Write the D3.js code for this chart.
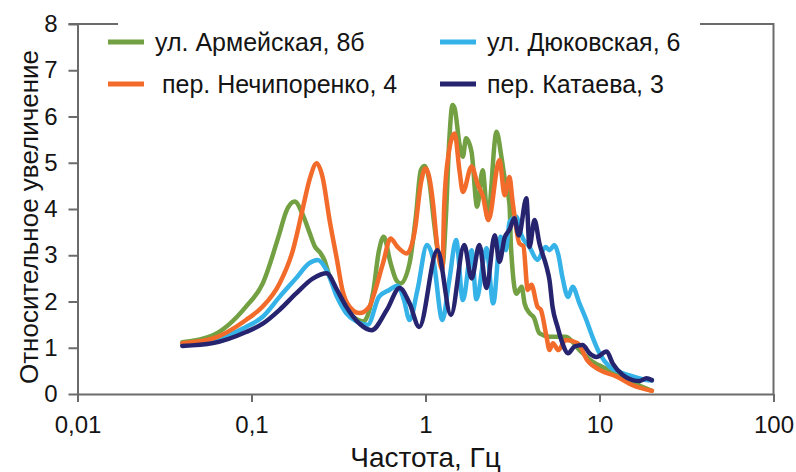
<!DOCTYPE html>
<html>
<head>
<meta charset="utf-8">
<script src="https://cdn.jsdelivr.net/npm/d3@7"></script>
<style>
  body { margin: 0; background: #fff; }
  svg { display: block; font-family: "Liberation Sans", Arial, sans-serif; }
</style>
</head>
<body>
<div id="chart"></div>
<script>
// --- data (frequency in Hz, relative amplification) ---
const armeyskaya = [
  [0.04,1.12],[0.06,1.27],[0.093,1.89],[0.116,2.39],[0.145,3.48],[0.158,3.94],[0.177,4.16],[0.196,3.9],
  [0.215,3.5],[0.232,3.18],[0.25,3.04],[0.262,2.9],[0.281,2.54],[0.321,2.1],[0.366,1.75],[0.44,1.57],[0.5,2.2],
  [0.54,3.1],[0.575,3.4],[0.63,2.83],[0.68,2.46],[0.72,2.39],[0.81,2.83],[0.88,3.83],[0.94,4.84],
  [0.99,4.93],[1.05,4.62],[1.11,3.83],[1.19,2.97],[1.25,2.75],[1.31,3.83],[1.37,5.49],[1.43,6.25],
  [1.47,6.18],[1.57,5.39],[1.64,5.13],[1.71,5.53],[1.84,5.23],[1.98,4.05],[2.13,4.84],[2.28,3.8],
  [2.56,5.67],[2.73,5.13],[2.85,4.66],[3.04,4.09],[3.1,3.18],[3.33,2.17],[3.57,2.32],[3.71,1.96],
  [3.96,1.75],[4.2,1.65],[4.52,1.31],[5.16,1.24],[6.4,1.24],[7.67,0.95],[9.1,0.7],[11.4,0.52],
  [14.3,0.34],[17.7,0.15],[20,0.07]
];
const dyukovskaya = [
  [0.04,1.09],[0.06,1.17],[0.093,1.45],[0.116,1.67],[0.145,2.1],[0.18,2.5],[0.215,2.83],[0.24,2.9],
  [0.27,2.68],[0.31,2.1],[0.35,1.75],[0.4,1.57],[0.466,1.5],[0.54,2.1],[0.62,2.25],[0.69,2.34],
  [0.75,2.05],[0.81,1.6],[0.9,2.26],[1.02,3.22],[1.11,2.9],[1.25,1.6],[1.37,2.46],[1.5,3.33],
  [1.64,2.03],[1.84,3.11],[1.96,2.05],[2.24,3.15],[2.45,1.96],[2.7,3.4],[2.9,3.11],[3.04,3.72],
  [3.33,3.83],[3.56,3.43],[3.96,3.18],[4.4,2.9],[4.9,3.18],[5.16,3.11],[5.5,3.22],[5.8,3.01],
  [6.12,2.53],[6.6,2.1],[7.0,2.32],[7.67,1.96],[8.4,1.6],[9.1,1.24],[10,0.88],[11.4,0.59],
  [13,0.48],[15.5,0.38],[18.6,0.3],[20,0.29]
];
const nechiporenko = [
  [0.04,1.1],[0.06,1.2],[0.093,1.6],[0.116,1.89],[0.145,2.39],[0.173,3.11],[0.196,3.97],[0.215,4.62],
  [0.237,4.99],[0.256,4.69],[0.281,3.76],[0.31,2.9],[0.333,2.25],[0.366,1.89],[0.418,1.75],[0.476,1.89],
  [0.5,2.1],[0.57,2.83],[0.63,3.36],[0.69,3.18],[0.78,3.04],[0.87,3.55],[0.94,4.55],[1.0,4.88],
  [1.05,4.69],[1.1,4.19],[1.17,3.18],[1.25,2.68],[1.28,4.05],[1.35,5.13],[1.47,5.63],[1.57,4.81],
  [1.64,4.37],[1.84,4.92],[2.0,4.52],[2.13,4.3],[2.3,3.76],[2.66,5.06],[2.85,4.3],[3.04,4.69],
  [3.16,4.19],[3.47,3.25],[3.65,3.2],[3.87,2.25],[4.06,2.36],[4.4,1.89],[4.6,1.82],[4.96,1.24],
  [5.16,0.95],[5.4,1.1],[5.8,0.95],[6.4,1.17],[7.5,1.1],[8.5,0.73],[10,0.52],[12.5,0.38],
  [15.5,0.19],[20,0.07]
];
const kataeva = [
  [0.04,1.04],[0.06,1.1],[0.093,1.34],[0.116,1.52],[0.145,1.82],[0.18,2.17],[0.226,2.5],[0.27,2.61],
  [0.31,2.25],[0.35,1.89],[0.418,1.52],[0.49,1.38],[0.6,1.82],[0.71,2.29],[0.81,1.96],[0.92,1.45],
  [1.17,3.11],[1.4,1.71],[1.67,3.22],[1.84,2.5],[2.04,3.22],[2.24,2.29],[2.5,3.43],[2.66,2.86],
  [2.85,3.38],[3.04,3.55],[3.24,3.8],[3.44,3.43],[3.8,4.23],[3.96,3.18],[4.23,3.76],[4.52,3.25],
  [4.96,2.75],[5.16,2.46],[5.37,1.89],[5.74,1.45],[6.12,1.1],[6.6,0.88],[7.2,1.03],[8.0,1.06],
  [8.76,0.88],[9.6,0.8],[11,0.92],[11.9,0.66],[13.6,0.41],[15.5,0.3],[17,0.28],[18.6,0.34],[20,0.3]
];

const seriesNames = ["ул. Армейская, 8б", "ул. Дюковская, 6", " пер. Нечипоренко, 4", "пер. Катаева, 3"];
const seriesColors = ["#72a043", "#35b2e8", "#f26b2a", "#27246f"];
const seriesData = [armeyskaya, dyukovskaya, nechiporenko, kataeva];

const xTicks = [0.01, 0.1, 1, 10, 100];
const yTicks = [0, 1, 2, 3, 4, 5, 6, 7, 8];
const xTitle = "Частота, Гц";
const yTitle = "Относительное увеличение";

// --- layout ---
const W = 796, H = 472;
const m = { left: 77.5, right: 22.5, top: 24, bottom: 78 };
const axisColor = "#6b6b6b";
const textColor = "#141414";

const svg = d3.select("#chart").append("svg").attr("width", W).attr("height", H);

const x = d3.scaleLog().domain([0.01, 100]).range([m.left, W - m.right]);
const y = d3.scaleLinear().domain([0, 8]).range([H - m.bottom, m.top]);

// frame (top + right)
svg.append("path")
  .attr("d", `M${x(0.01) - 9},${y(8)}H${x(100)}V${y(0)}`)
  .attr("fill", "none").attr("stroke", axisColor).attr("stroke-width", 2);

// axes
const xAxis = svg.append("g")
  .attr("transform", `translate(0,${y(0)})`)
  .call(d3.axisBottom(x).tickValues(xTicks).tickSize(8).tickSizeOuter(0)
    .tickFormat(d => String(d).replace(".", ",")));
const yAxis = svg.append("g")
  .attr("transform", `translate(${x(0.01)},0)`)
  .call(d3.axisLeft(y).tickValues(yTicks).tickSize(9).tickSizeOuter(0).tickFormat(d3.format("d")));

[xAxis, yAxis].forEach(g => {
  g.select(".domain").attr("stroke", axisColor).attr("stroke-width", 2);
  g.selectAll(".tick line").attr("stroke", axisColor).attr("stroke-width", 2);
  g.selectAll(".tick text").attr("fill", textColor).style("font-size", "24px")
    .style("font-family", "'Liberation Sans', Arial, sans-serif");
});
xAxis.selectAll(".tick text").attr("dy", "1.15em");
yAxis.selectAll(".tick text").attr("x", -20);

// legend background hides part of the top frame
svg.append("rect")
  .attr("x", 118).attr("y", 14).attr("width", 582).attr("height", 88)
  .attr("fill", "#fff");

// curves
const line = d3.line()
  .x(d => x(d[0]))
  .y(d => y(d[1]))
  .curve(d3.curveMonotoneX);

svg.append("g").selectAll("path")
  .data(seriesData)
  .join("path")
  .attr("d", line)
  .attr("fill", "none")
  .attr("stroke", (d, i) => seriesColors[i])
  .attr("stroke-width", 4.5)
  .attr("stroke-linejoin", "round")
  .attr("stroke-linecap", "round");

// legend
const legendPos = [[108, 42], [440, 42], [108, 84], [440, 84]];
const legend = svg.append("g").selectAll("g")
  .data(seriesNames)
  .join("g")
  .attr("transform", (d, i) => `translate(${legendPos[i][0]},${legendPos[i][1]})`);
legend.append("line")
  .attr("x1", 0).attr("x2", 36).attr("y1", 0).attr("y2", 0)
  .attr("stroke", (d, i) => seriesColors[i]).attr("stroke-width", 5);
legend.append("text")
  .attr("x", 47).attr("y", 0).attr("dy", "0.35em")
  .attr("xml:space", "preserve")
  .style("font-size", "25px").attr("fill", textColor)
  .text(d => d);

// axis titles
svg.append("text")
  .attr("x", (x(0.01) + x(100)) / 2).attr("y", 467)
  .attr("text-anchor", "middle").style("font-size", "28px").attr("fill", textColor)
  .text(xTitle);
svg.append("text")
  .attr("transform", `translate(38,${(y(0) + y(8)) / 2 + 8}) rotate(-90)`)
  .attr("text-anchor", "middle").style("font-size", "26px").attr("fill", textColor)
  .text(yTitle);
</script>
</body>
</html>
